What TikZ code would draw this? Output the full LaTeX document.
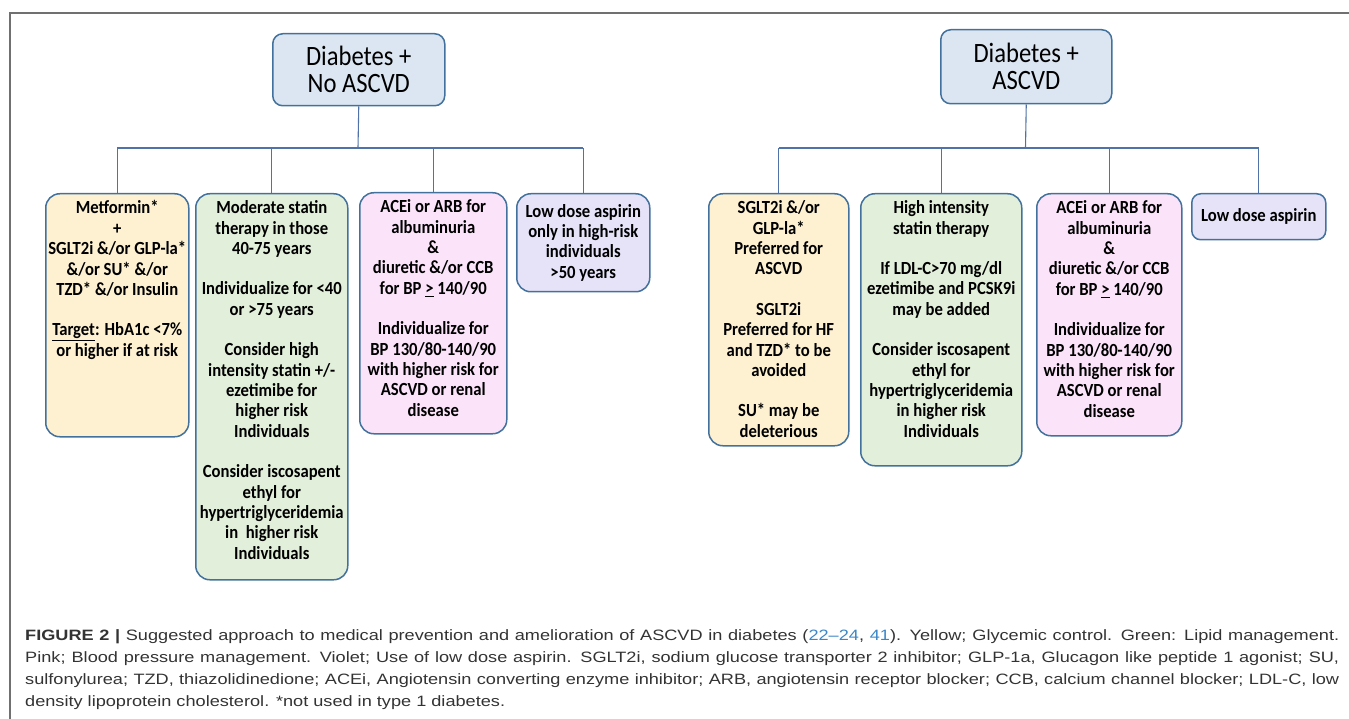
\documentclass[tikz,border=0pt]{standalone}
\usepackage{fontspec}
\setmainfont{Carlito}
\newfontfamily\cardfont[FakeStretch=0.9]{Carlito}
\newfontfamily\headfont[FakeStretch=0.88]{Carlito}
\newfontfamily\notefont[FakeStretch=1.21]{Liberation Sans}

\definecolor{cardline}{HTML}{41719C}
\definecolor{linkblue}{HTML}{4F73A8}
\definecolor{headfill}{HTML}{DCE6F2}
\definecolor{yfill}{HTML}{FDF1D2}
\definecolor{gfill}{HTML}{E2EFDA}
\definecolor{pfill}{HTML}{FBE4FA}
\definecolor{vfill}{HTML}{E6E2F8}
\definecolor{framegray}{HTML}{707070}
\definecolor{citeblue}{HTML}{3A86C8}
\definecolor{notegray}{HTML}{333333}

\tikzset{
  card/.style={draw=cardline, line width=1.5pt, rounded corners=14pt, inner sep=0pt,
    anchor=north west, font=\cardfont\bfseries\fontsize{18.5}{20.4}\selectfont},
  head/.style={draw=cardline, line width=1.5pt, rounded corners=10pt, fill=headfill,
    inner sep=0pt, anchor=north west, align=center, font=\headfont\fontsize{28}{27}\selectfont},
  link/.style={draw=linkblue, line width=1.1pt},
  frameline/.style={draw=framegray, line width=1.8pt}
}

% card body: width, height, lines
\newcommand{\cardtop}[3]{\parbox[c][#2][t]{#1}{\centering\vspace*{7pt}#3}}
\newcommand{\cardmid}[3]{\parbox[c][#2][c]{#1}{\centering #3}}

\begin{document}
\begin{tikzpicture}[x=1pt,y=-1pt]
\useasboundingbox (0,0) rectangle (1349,719);
\draw[frameline] (10,719) -- (10,13) -- (1349,13) ; % frame

% ---- no ASCVD
\node[head, minimum width=172pt, minimum height=72pt] (nohd) at (272,33) {Diabetes +\\No ASCVD};
\node[card, fill=yfill] (metf) at (45,193) {\cardtop{143pt}{243pt}{Metformin*\\+\\SGLT2i \&/or GLP-la*\\\&/or SU* \&/or\\TZD* \&/or Insulin\\[20pt]\underline{Target}: HbA1c <7\%\\or higher if at risk}};
\node[card, fill=gfill] (statno) at (195,193) {\cardtop{152pt}{386pt}{Moderate statin\\therapy in those\\40-75 years\\[20pt]Individualize for <40\\or >75 years\\[20pt]Consider high\\intensity statin +/-\\ezetimibe for\\higher risk\\Individuals\\[20pt]Consider iscosapent\\ethyl for\\hypertriglyceridemia\\in\ \ higher risk\\Individuals}};
\node[card, fill=pfill] (bpno) at (359,192) {\cardtop{147pt}{241pt}{ACEi or ARB for\\albuminuria\\\&\\diuretic \&/or CCB\\for BP \underline{>} 140/90\\[20pt]Individualize for\\BP 130/80-140/90\\with higher risk for\\ASCVD or renal\\disease}};
\node[card, fill=vfill] (aspno) at (516,193) {\cardmid{133pt}{98pt}{Low dose aspirin\\only in high-risk\\individuals\\>50 years}};

\coordinate (nojn) at (358,148);
\draw[link] (nohd.south) -- (nojn) ;
\draw[link] (metf.north |- nojn) -- (aspno.north |- nojn) ; % bar
\draw[link] (metf.north |- nojn) -- (metf.north) ;
\draw[link] (statno.north |- nojn) -- (statno.north) ;
\draw[link] (bpno.north |- nojn) -- (bpno.north) ;
\draw[link] (aspno.north |- nojn) -- (aspno.north) ;

% ---- with ASCVD
\node[head, minimum width=171pt, minimum height=74pt] (ashd) at (940,29) {Diabetes +\\ASCVD};
\node[card, fill=yfill] (glyas) at (708,193) {\cardtop{140pt}{252pt}{SGLT2i \&/or\\GLP-la*\\Preferred for\\ASCVD\\[20pt]SGLT2i\\Preferred for HF\\and TZD* to be\\avoided\\[20pt]SU* may be\\deleterious}};
\node[card, fill=gfill] (statas) at (860,193) {\cardtop{161pt}{272pt}{High intensity\\statin therapy\\[20pt]If LDL-C>70 mg/dl\\ezetimibe and PCSK9i\\may be added\\[20pt]Consider iscosapent\\ethyl for\\hypertriglyceridemia\\in higher risk\\Individuals}};
\node[card, fill=pfill] (bpas) at (1036,193) {\cardtop{145pt}{242pt}{ACEi or ARB for\\albuminuria\\\&\\diuretic \&/or CCB\\for BP \underline{>} 140/90\\[20pt]Individualize for\\BP 130/80-140/90\\with higher risk for\\ASCVD or renal\\disease}};
\node[card, fill=vfill, rounded corners=9pt] (aspas) at (1191,193) {\cardmid{134pt}{46pt}{Low dose aspirin}};

\coordinate (asjn) at (1025.5,148);
\draw[link] (ashd.south) -- (asjn) ;
\draw[link] (glyas.north |- asjn) -- (aspas.north |- asjn) ; % bar
\draw[link] (glyas.north |- asjn) -- (glyas.north) ;
\draw[link] (statas.north |- asjn) -- (statas.north) ;
\draw[link] (bpas.north |- asjn) -- (bpas.north) ;
\draw[link] (aspas.north |- asjn) -- (aspas.north) ;

% ---- caption
\node[anchor=north west, text width=1314pt, align=justify, inner sep=0pt, text=notegray, font=\notefont\fontsize{15}{22}\selectfont] (note) at (25,629) {%
{\bfseries FIGURE 2 |} Suggested approach to medical prevention and amelioration of ASCVD in diabetes (\textcolor{citeblue}{22–24}, \textcolor{citeblue}{41}). Yellow; Glycemic control. Green: Lipid management.\linebreak
Pink; Blood pressure management. Violet; Use of low dose aspirin. SGLT2i, sodium glucose transporter 2 inhibitor; GLP-1a, Glucagon like peptide 1 agonist; SU,\linebreak
sulfonylurea; TZD, thiazolidinedione; ACEi, Angiotensin converting enzyme inhibitor; ARB, angiotensin receptor blocker; CCB, calcium channel blocker; LDL-C, low\linebreak
density lipoprotein cholesterol. *not used in type 1 diabetes.};
\end{tikzpicture}
\end{document}
